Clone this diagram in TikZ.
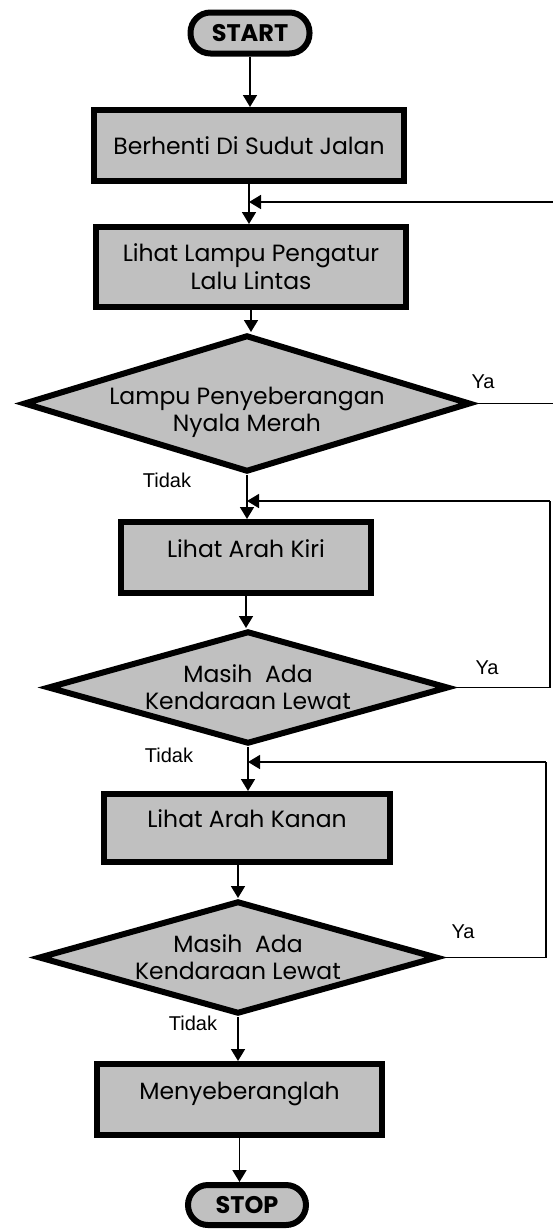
\documentclass[tikz,border=0pt]{standalone}
\usepackage{fontspec}
\setmainfont{Poppins}
\newfontfamily\labelfont{Liberation Sans}
\usetikzlibrary{shapes.geometric,arrows.meta}
\definecolor{isigray}{RGB}{192,192,192}
\newcommand{\naik}{\rule[-18pt]{0pt}{1pt}}
\tikzset{
  proses/.style={draw,line width=6pt,fill=isigray,inner sep=0pt,align=center,
    font=\fontsize{23.5}{28}\selectfont},
  terminal/.style={proses,rounded corners=20pt,font=\fontsize{24}{28}\selectfont\bfseries},
  keputusan/.style={proses,diamond,inner sep=-14pt,font=\fontsize{23.5}{27}\selectfont},
  jalur/.style={line width=1.6pt},
  panah/.style={jalur,-{Triangle[width=14pt,length=12pt]}},
  ket/.style={font=\labelfont\fontsize{20}{22}\selectfont,inner sep=0pt}
}
\begin{document}
\begin{tikzpicture}[x=1pt,y=-1pt]
\useasboundingbox (0,0) rectangle (552,1229);
% langkah-langkah
\node[terminal,minimum width=119pt,minimum height=41pt] (mulai) at (250,33) {START};
\node[proses,minimum width=310pt,minimum height=71pt] (berhenti) at (249,145.5) {Berhenti Di Sudut Jalan};
\node[proses,minimum width=310pt,minimum height=80pt] (lampu) at (251,267) {Lihat Lampu Pengatur\\Lalu Lintas};
\node[keputusan,aspect=3.25,minimum width=447pt,minimum height=137pt] (merah) at (247,403.5) {\rule{0pt}{36pt}Lampu Penyeberangan\\Nyala Merah};
\node[proses,minimum width=250pt,minimum height=71pt] (kiri) at (246,557.5) {Lihat Arah Kiri\naik};
\node[keputusan,aspect=3.5,minimum width=401pt,minimum height=113pt] (lewat1) at (248,687.5) {Masih\ \ Ada\\Kendaraan Lewat};
\node[proses,minimum width=286pt,minimum height=68pt] (kanan) at (247,828) {Lihat Arah Kanan\naik};
\node[keputusan,aspect=3.5,minimum width=399pt,minimum height=113pt] (lewat2) at (238,957.5) {Masih\ \ Ada\\Kendaraan Lewat};
\node[proses,minimum width=285pt,minimum height=71pt] (seberang) at (239.5,1099.5) {Menyeberanglah\naik};
\node[terminal,minimum width=118pt,minimum height=40pt] (selesai) at (247,1205) {STOP};
% titik balik
\coordinate (balik1) at (557,202);
\coordinate (balik2) at (550,501);
\coordinate (balik3) at (546,762);
% alur utama
\draw[panah] (mulai.south) -- (mulai.south |- berhenti.north);
\draw[panah] (berhenti.south) -- (berhenti.south |- lampu.north);
\draw[panah] (lampu.south) -- (lampu.south |- merah.north);
\draw[panah] (merah.south) -- (merah.south |- kiri.north);
\draw[panah] (kiri.south) -- (kiri.south |- lewat1.north);
\draw[panah] (lewat1.south) -- (lewat1.south |- kanan.north);
\draw[panah] (lewat2.north |- kanan.south) -- (lewat2.north);
\draw[panah] (lewat2.south) -- (lewat2.south |- seberang.north);
\draw[panah] (seberang.south) -- (seberang.south |- selesai.north);
% jalur ya
\draw[jalur] (merah.east) -- (merah.east -| balik1) -- (balik1);
\draw[panah] (balik1) -- (balik1 -| berhenti.south);
\draw[jalur] (lewat1.east) -- (lewat1.east -| balik2) -- (balik2);
\draw[panah] (balik2) -- (balik2 -| merah.south);
\draw[jalur] (lewat2.east) -- (lewat2.east -| balik3) -- (balik3);
\draw[panah] (balik3) -- (balik3 -| lewat1.south);
% keterangan
\node[ket] (ya1) at (483,382) {Ya};
\node[ket] (tidak1) at (167,480) {Tidak};
\node[ket] (ya2) at (487,668) {Ya};
\node[ket] (tidak2) at (169,755) {Tidak};
\node[ket] (ya3) at (463,932) {Ya};
\node[ket] (tidak3) at (193,1023) {Tidak};
\end{tikzpicture}
\end{document}
